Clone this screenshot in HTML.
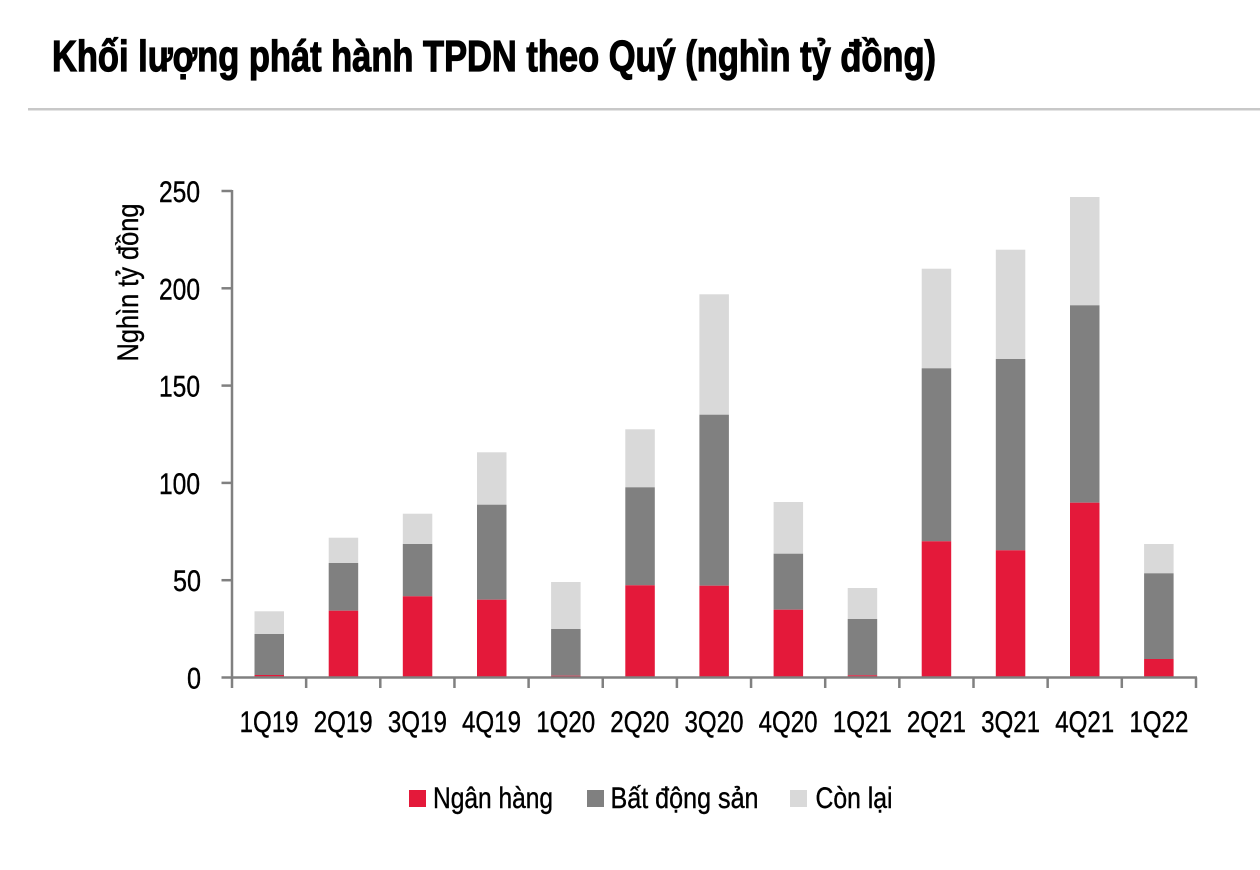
<!DOCTYPE html>
<html>
<head>
<meta charset="utf-8">
<style>
html,body{margin:0;padding:0;background:#fff;}
svg{display:block;}
text{font-family:"Liberation Sans Narrow","Liberation Sans",sans-serif;fill:#000;}
</style>
</head>
<body>
<svg width="1260" height="870" viewBox="0 0 1260 870" xmlns="http://www.w3.org/2000/svg">
<rect width="1260" height="870" fill="#fff"/>
<text x="52" y="71" font-size="44" font-weight="bold" stroke="#000" stroke-width="1.2" textLength="884" lengthAdjust="spacingAndGlyphs">Khối lượng phát hành TPDN theo Quý (nghìn tỷ đồng)</text>
<rect x="28" y="108" width="1232" height="2.5" fill="#c8c8c8"/>

<text transform="translate(138,282.5) rotate(-90)" text-anchor="middle" font-size="30" stroke="#000" stroke-width="0.4" textLength="158" lengthAdjust="spacingAndGlyphs">Nghìn tỷ đồng</text>

<g>
<rect x="254.5" y="611.3" width="29.5" height="22.7" fill="#d9d9d9"/>
<rect x="254.5" y="634" width="29.5" height="41" fill="#808080"/>
<rect x="254.5" y="675" width="29.5" height="2" fill="#e4193a"/>
<rect x="328.7" y="537.7" width="29.5" height="25.3" fill="#d9d9d9"/>
<rect x="328.7" y="563" width="29.5" height="47.7" fill="#808080"/>
<rect x="328.7" y="610.7" width="29.5" height="66.3" fill="#e4193a"/>
<rect x="402.8" y="513.7" width="29.5" height="30.3" fill="#d9d9d9"/>
<rect x="402.8" y="544" width="29.5" height="52.3" fill="#808080"/>
<rect x="402.8" y="596.3" width="29.5" height="80.7" fill="#e4193a"/>
<rect x="477" y="452.3" width="29.5" height="52.4" fill="#d9d9d9"/>
<rect x="477" y="504.7" width="29.5" height="95" fill="#808080"/>
<rect x="477" y="599.7" width="29.5" height="77.3" fill="#e4193a"/>
<rect x="551.1" y="582" width="29.5" height="47" fill="#d9d9d9"/>
<rect x="551.1" y="629" width="29.5" height="46.7" fill="#808080"/>
<rect x="551.1" y="675.7" width="29.5" height="1.3" fill="#e4193a"/>
<rect x="625.3" y="429.3" width="29.5" height="58" fill="#d9d9d9"/>
<rect x="625.3" y="487.3" width="29.5" height="98" fill="#808080"/>
<rect x="625.3" y="585.3" width="29.5" height="91.7" fill="#e4193a"/>
<rect x="699.4" y="294.3" width="29.5" height="120.4" fill="#d9d9d9"/>
<rect x="699.4" y="414.7" width="29.5" height="171" fill="#808080"/>
<rect x="699.4" y="585.7" width="29.5" height="91.3" fill="#e4193a"/>
<rect x="773.6" y="502" width="29.5" height="51.7" fill="#d9d9d9"/>
<rect x="773.6" y="553.7" width="29.5" height="56" fill="#808080"/>
<rect x="773.6" y="609.7" width="29.5" height="67.3" fill="#e4193a"/>
<rect x="847.7" y="588" width="29.5" height="31" fill="#d9d9d9"/>
<rect x="847.7" y="619" width="29.5" height="56.3" fill="#808080"/>
<rect x="847.7" y="675.3" width="29.5" height="1.7" fill="#e4193a"/>
<rect x="921.7" y="268.7" width="29.5" height="99.6" fill="#d9d9d9"/>
<rect x="921.7" y="368.3" width="29.5" height="173" fill="#808080"/>
<rect x="921.7" y="541.3" width="29.5" height="135.7" fill="#e4193a"/>
<rect x="995.8" y="249.7" width="29.5" height="109.3" fill="#d9d9d9"/>
<rect x="995.8" y="359" width="29.5" height="191.3" fill="#808080"/>
<rect x="995.8" y="550.3" width="29.5" height="126.7" fill="#e4193a"/>
<rect x="1070" y="197" width="29.5" height="108.3" fill="#d9d9d9"/>
<rect x="1070" y="305.3" width="29.5" height="197.4" fill="#808080"/>
<rect x="1070" y="502.7" width="29.5" height="174.3" fill="#e4193a"/>
<rect x="1144.1" y="544" width="29.5" height="29.3" fill="#d9d9d9"/>
<rect x="1144.1" y="573.3" width="29.5" height="85.7" fill="#808080"/>
<rect x="1144.1" y="659" width="29.5" height="18" fill="#e4193a"/>
</g>

<g stroke="#808080" stroke-width="2.5" fill="none">
<line x1="232" y1="190" x2="232" y2="688"/>
<line x1="221.5" y1="677.5" x2="1197" y2="677.5"/>
<line x1="221.5" y1="191" x2="232" y2="191"/>
<line x1="221.5" y1="288.3" x2="232" y2="288.3"/>
<line x1="221.5" y1="385.6" x2="232" y2="385.6"/>
<line x1="221.5" y1="482.9" x2="232" y2="482.9"/>
<line x1="221.5" y1="580.2" x2="232" y2="580.2"/>
<line x1="306.15" y1="677.5" x2="306.15" y2="688"/>
<line x1="380.3" y1="677.5" x2="380.3" y2="688"/>
<line x1="454.45" y1="677.5" x2="454.45" y2="688"/>
<line x1="528.6" y1="677.5" x2="528.6" y2="688"/>
<line x1="602.75" y1="677.5" x2="602.75" y2="688"/>
<line x1="676.9" y1="677.5" x2="676.9" y2="688"/>
<line x1="751.05" y1="677.5" x2="751.05" y2="688"/>
<line x1="825.2" y1="677.5" x2="825.2" y2="688"/>
<line x1="899.35" y1="677.5" x2="899.35" y2="688"/>
<line x1="973.5" y1="677.5" x2="973.5" y2="688"/>
<line x1="1047.65" y1="677.5" x2="1047.65" y2="688"/>
<line x1="1121.8" y1="677.5" x2="1121.8" y2="688"/>
<line x1="1196" y1="677.5" x2="1196" y2="688"/>
</g>

<g font-size="30" text-anchor="end" stroke="#000" stroke-width="0.4">
<text x="200" y="202" textLength="41" lengthAdjust="spacingAndGlyphs">250</text>
<text x="200" y="299.3" textLength="41" lengthAdjust="spacingAndGlyphs">200</text>
<text x="200" y="396.6" textLength="41" lengthAdjust="spacingAndGlyphs">150</text>
<text x="200" y="493.9" textLength="41" lengthAdjust="spacingAndGlyphs">100</text>
<text x="201" y="591.2" textLength="28" lengthAdjust="spacingAndGlyphs">50</text>
<text x="201" y="688.5" textLength="14" lengthAdjust="spacingAndGlyphs">0</text>
</g>

<g font-size="30" text-anchor="middle" stroke="#000" stroke-width="0.4">
<text x="269.1" y="732" textLength="59" lengthAdjust="spacingAndGlyphs">1Q19</text>
<text x="343.2" y="732" textLength="59" lengthAdjust="spacingAndGlyphs">2Q19</text>
<text x="417.4" y="732" textLength="59" lengthAdjust="spacingAndGlyphs">3Q19</text>
<text x="491.5" y="732" textLength="59" lengthAdjust="spacingAndGlyphs">4Q19</text>
<text x="565.7" y="732" textLength="59" lengthAdjust="spacingAndGlyphs">1Q20</text>
<text x="639.8" y="732" textLength="59" lengthAdjust="spacingAndGlyphs">2Q20</text>
<text x="714" y="732" textLength="59" lengthAdjust="spacingAndGlyphs">3Q20</text>
<text x="788.1" y="732" textLength="59" lengthAdjust="spacingAndGlyphs">4Q20</text>
<text x="862.3" y="732" textLength="59" lengthAdjust="spacingAndGlyphs">1Q21</text>
<text x="936.4" y="732" textLength="59" lengthAdjust="spacingAndGlyphs">2Q21</text>
<text x="1010.6" y="732" textLength="59" lengthAdjust="spacingAndGlyphs">3Q21</text>
<text x="1084.7" y="732" textLength="59" lengthAdjust="spacingAndGlyphs">4Q21</text>
<text x="1158.9" y="732" textLength="59" lengthAdjust="spacingAndGlyphs">1Q22</text>
</g>

<rect x="409" y="790" width="17" height="17" fill="#e4193a"/>
<text x="433" y="808" font-size="30" stroke="#000" stroke-width="0.4" textLength="120" lengthAdjust="spacingAndGlyphs">Ngân hàng</text>
<rect x="587" y="790" width="17" height="17" fill="#808080"/>
<text x="610.5" y="808" font-size="30" stroke="#000" stroke-width="0.4" textLength="148" lengthAdjust="spacingAndGlyphs">Bất động sản</text>
<rect x="790" y="790" width="17" height="17" fill="#d9d9d9"/>
<text x="815.5" y="808" font-size="30" stroke="#000" stroke-width="0.4" textLength="77" lengthAdjust="spacingAndGlyphs">Còn lại</text>
</svg>
</body>
</html>
